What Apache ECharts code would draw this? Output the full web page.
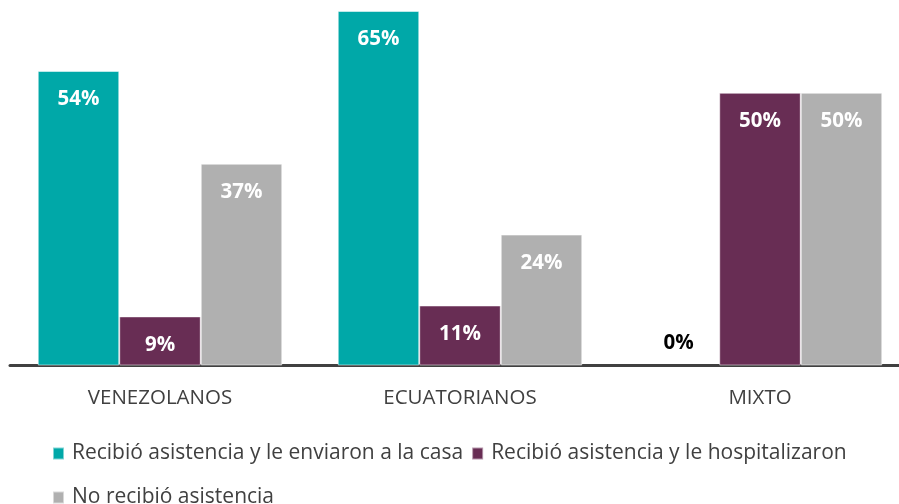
<!DOCTYPE html>
<html>
<head>
<meta charset="utf-8">
<script src="https://cdn.jsdelivr.net/npm/echarts@6/dist/echarts.min.js"></script>
<style>
html,body{margin:0;padding:0;background:#fff;overflow:hidden;width:899px;height:504px;}
#chart{width:910px;height:504px;}
</style>
</head>
<body>
<div id="chart"></div>
<script>
const categories = ['VENEZOLANOS', 'ECUATORIANOS', 'MIXTO'];
const seriesNames = ['Recibió asistencia y le enviaron a la casa', 'Recibió asistencia y le hospitalizaron', 'No recibió asistencia'];
const casaValues = [54, 65, 0];
const hospitalValues = [9, 11, 50];
const noAsistValues = [37, 24, 50];
const colors = ['#00A8A8', '#682D54', '#B0B0B0'];

const FONT = '"Open Sans", sans-serif';

function makeData(vals) {
  return vals.map(v => {
    if (v === 0) {
      return {value: v, itemStyle: {borderWidth: 0, color: 'rgba(0,0,0,0)'}, label: {position: 'top', color: '#000', distance: 12}};
    }
    return v;
  });
}

function makeSeries(i, vals) {
  return {
    name: seriesNames[i],
    type: 'bar',
    data: makeData(vals),
    barWidth: 81.5,
    barGap: '0%',
    itemStyle: {color: colors[i], borderColor: 'rgba(255,255,255,0.5)', borderWidth: 1},
    label: {
      show: true,
      position: 'insideTop',
      distance: 18,
      color: '#fff',
      fontFamily: FONT,
      fontWeight: 'bold',
      fontSize: 20.5,
      formatter: p => p.value + '%'
    }
  };
}

const chart = echarts.init(document.getElementById('chart'), null, {renderer: 'canvas'});
chart.setOption({
  animation: false,
  backgroundColor: '#fff',
  grid: {left: 10, right: 0, top: 11, bottom: 138.5, containLabel: false},
  xAxis: {
    type: 'category',
    data: categories,
    axisLine: {lineStyle: {color: '#404040', width: 3}},
    axisTick: {show: false},
    axisLabel: {color: '#404040', fontFamily: FONT, fontSize: 20.5, margin: 22}
  },
  yAxis: {
    type: 'value', min: 0, max: 65,
    show: false,
    splitLine: {show: false}
  },
  legend: [
    {
      data: [seriesNames[0], seriesNames[1]],
      left: 47, top: 438,
      itemWidth: 11, itemHeight: 12, itemGap: 8,
      icon: 'rect',
      textStyle: {color: '#404040', fontFamily: FONT, fontSize: 21, padding: [0, 0, 0, 3]}
    },
    {
      data: [seriesNames[2]],
      left: 47, top: 482,
      itemWidth: 11, itemHeight: 12, itemGap: 8,
      icon: 'rect',
      textStyle: {color: '#404040', fontFamily: FONT, fontSize: 21, padding: [0, 0, 0, 3]}
    }
  ],
  series: [
    makeSeries(0, casaValues),
    makeSeries(1, hospitalValues),
    makeSeries(2, noAsistValues)
  ]
});
</script>
</body>
</html>
